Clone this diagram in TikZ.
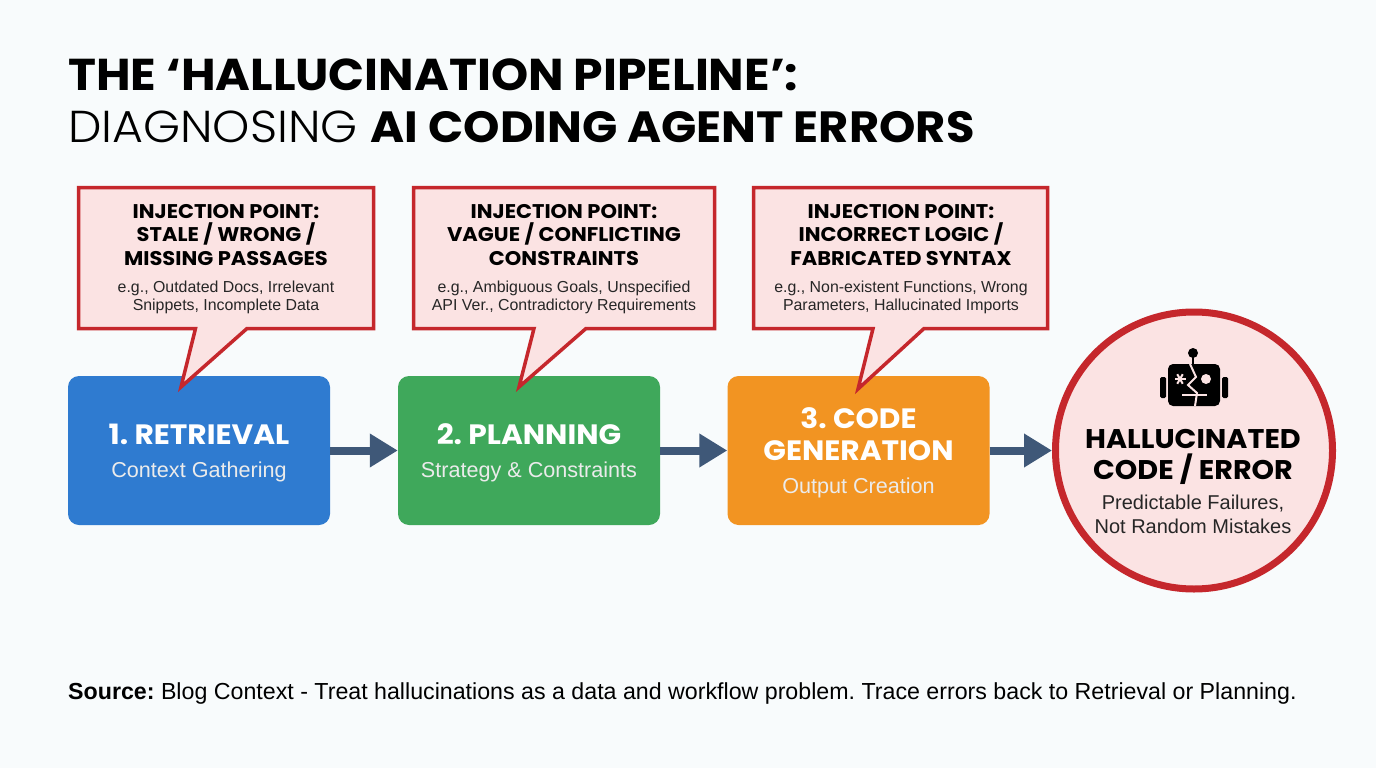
\documentclass[tikz,border=0pt]{standalone}
\usepackage{fontspec}
\setmainfont{Liberation Sans}
\newfontfamily\headfont{Poppins}[BoldFont={Poppins Bold}, FakeStretch=1.06]
\newfontfamily\lightfont{Poppins Light}[FakeStretch=1.06]
\usetikzlibrary{arrows.meta}
\frenchspacing
\definecolor{paper}{HTML}{F8FBFC}
\definecolor{alertred}{HTML}{C5272C}
\definecolor{alertfill}{HTML}{FBE3E3}
\definecolor{stageblue}{HTML}{2F7BD0}
\definecolor{stagegreen}{HTML}{3FA85B}
\definecolor{stageorange}{HTML}{F29422}
\definecolor{flowslate}{HTML}{3F5878}
\newcommand{\stagesubfont}{\fontfamily{\rmdefault}\mdseries\fontsize{21.6}{32}\selectfont\color{white!92!black}}
\newcommand{\stagetop}{\rule{0pt}{25pt}}
\tikzset{
  calloutbox/.style={draw=alertred, fill=alertfill, line width=3.5pt, miter limit=10},
  callouthead/.style={align=center, inner sep=0pt, font=\headfont\bfseries\fontsize{19.8}{23.5}\selectfont},
  calloutsub/.style={align=center, inner sep=0pt, text=black!85, font=\fontsize{15.9}{18.5}\selectfont},
  stagebox/.style={rectangle, rounded corners=11pt, minimum width=262pt, minimum height=149pt, inner sep=0pt, align=center, text=white, font=\headfont\bfseries\fontsize{28}{32}\selectfont},
  flowarrow/.style={draw=flowslate, line width=8pt, -{Triangle[length=28pt,width=32pt]}},
}
\begin{document}
\begin{tikzpicture}[x=1pt, y=-1pt]
  \useasboundingbox (0,0) rectangle (1376,768);
  \fill[paper] (0,0) rectangle (1376,768);
  % title
  \node [anchor=base west, inner sep=0pt, font=\headfont\bfseries\fontsize{44.6}{50}\selectfont] (titleA) at (68,91) {THE ‘HALLUCINATION PIPELINE’:};
  \node [anchor=base west, inner sep=0pt] (titleB) at (68,142) {\lightfont\fontsize{44.7}{50}\selectfont DIAGNOSING \headfont\bfseries\fontsize{43.7}{50}\selectfont AI CODING AGENT ERRORS};
  % stages
  \node [stagebox, fill=stageblue] (retrieval) at (199,450.5) {\stagetop 1. RETRIEVAL\\[1pt]\stagesubfont Context Gathering};
  \node [stagebox, fill=stagegreen] (planning) at (529,450.5) {\stagetop 2. PLANNING\\[1pt]\stagesubfont Strategy \& Constraints};
  \node [stagebox, fill=stageorange] (generation) at (858.5,450.5) {\stagetop 3. CODE\\GENERATION\\[1pt]\stagesubfont Output Creation};
  \node [circle, draw=alertred, fill=alertfill, line width=7pt, minimum size=277pt, inner sep=0pt] (failure) at (1194,450.5) {};
  \path[flowarrow] (retrieval) -- (planning);
  \path[flowarrow] (planning) -- (generation);
  \path[flowarrow] (generation) -- (failure);
  % callouts
  \draw[calloutbox] (78.5,187.5) -- (373.5,187.5) -- (373.5,328.5) -- (247,328.5) -- (181,387) -- (195.5,328.5) -- (78.5,328.5) -- cycle;
  \draw[calloutbox] (413.5,187.5) -- (714.5,187.5) -- (714.5,328.5) -- (586,328.5) -- (519,387) -- (534,328.5) -- (413.5,328.5) -- cycle;
  \draw[calloutbox] (753.5,187.5) -- (1047.5,187.5) -- (1047.5,328.5) -- (924,328.5) -- (858,389) -- (873,328.5) -- (753.5,328.5) -- cycle;
  \node [callouthead] (headA) at (226,235) {INJECTION POINT:\\STALE / WRONG /\\MISSING PASSAGES};
  \node [calloutsub] (subA) at (226,297.5) {e.g., Outdated Docs, Irrelevant\\Snippets, Incomplete Data};
  \node [callouthead] (headB) at (564,235) {INJECTION POINT:\\VAGUE / CONFLICTING\\CONSTRAINTS};
  \node [calloutsub] (subB) at (564,297.5) {e.g., Ambiguous Goals, Unspecified\\API Ver., Contradictory Requirements};
  \node [callouthead] (headC) at (901,235) {INJECTION POINT:\\INCORRECT LOGIC /\\FABRICATED SYNTAX};
  \node [calloutsub] (subC) at (901,297.5) {e.g., Non-existent Functions, Wrong\\Parameters, Hallucinated Imports};
  % robot
  \draw[black, line width=2.5pt] (1193,353) -- (1193,366);
  \fill[black] (1193,353) circle (5);
  \fill[black, rounded corners=1.5pt] (1160,377) rectangle (1166,398);
  \fill[black, rounded corners=1.5pt] (1222,377) rectangle (1228,398);
  \fill[black, rounded corners=5pt] (1168,364) rectangle (1220,406);
  \fill[alertfill] (1206,379) circle (5);
  \foreach \a in {0,60,120}
    \draw[alertfill, line width=2pt] (1180,379) ++(\a:5.5) -- ++(\a+180:11);
  \draw[alertfill, line width=2.5pt] (1182,395) -- (1207,395);
  \draw[alertfill, line width=2pt] (1190,364) -- (1196,377) -- (1188,385) -- (1197,393) -- (1195,406);
  % outcome text
  \node [align=center, inner sep=0pt, font=\headfont\bfseries\fontsize{27}{31}\selectfont] (failureHead) at (1193,456.5) {HALLUCINATED\\CODE / ERROR};
  \node [align=center, inner sep=0pt, text=black!85, font=\fontsize{20}{24}\selectfont] (failureSub) at (1193,514) {Predictable Failures,\\Not Random Mistakes};
  % source
  \node [anchor=base west, inner sep=0pt, font=\fontsize{23.2}{26}\selectfont] (source) at (68,699) {\textbf{Source:} Blog Context - Treat hallucinations as a data and workflow problem. Trace errors back to Retrieval or Planning.};
\end{tikzpicture}
\end{document}
